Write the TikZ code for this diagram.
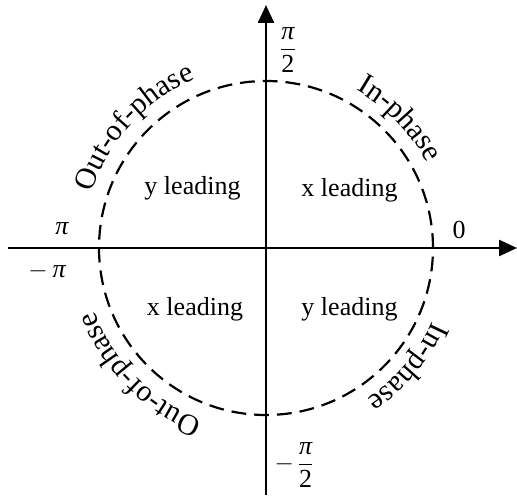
\documentclass[tikz,border=0pt]{standalone}
\usepackage{fontspec}
\setmainfont{Liberation Serif}
\usetikzlibrary{arrows.meta,decorations.text}
\newcommand\bigtxt{\fontsize{26}{31}\selectfont}
\newcommand\arctxt{\fontsize{30}{36}\selectfont}
\newcommand\ipi{\hbox{\itshape π}}
\begin{document}
\begin{tikzpicture}[x=1pt,y=1pt,
  axis/.style={line width=2.4pt,-{Triangle[length=18pt,width=16pt]}},
  dashcircle/.style={line width=2.2pt,dash pattern=on 14.8pt off 8pt},
  lbl/.style={font=\bigtxt,inner sep=0pt},
  arclabel/.style={decorate,decoration={text along path,text align={align=center},text={#1}}}]
\useasboundingbox (-266,-250) rectangle (251,248);
\coordinate (O) at (0,0);
\coordinate (W) at (-258,0);
\coordinate (E) at (251,0);
\coordinate (S) at (0,-247);
\coordinate (N) at (0,243);
\draw[axis] (W) -- (E);
\draw[axis] (S) -- (N);
\draw[dashcircle] (O) circle[radius=167];
% curved labels (clockwise arcs, tops outward)
\path[arclabel={|\arctxt|Out-of-phase}] (O) ++(182:183) arc[start angle=182,end angle=93,radius=183];
\path[arclabel={|\arctxt|In-phase}] (O) ++(84:182) arc[start angle=84,end angle=4,radius=182];
\path[arclabel={|\arctxt|In-phase}] (O) ++(0:182) arc[start angle=0,end angle=-80,radius=182];
\path[arclabel={|\arctxt|Out-of-phase}] (O) ++(270:183) arc[start angle=270,end angle=180,radius=183];
% quadrant labels
\node[lbl,anchor=base] (q2) at (-73.5,53) {y leading};
\node[lbl,anchor=base] (q1) at (83.5,51) {x leading};
\node[lbl,anchor=base] (q3) at (-71,-67) {x leading};
\node[lbl,anchor=base] (q4) at (83.5,-67) {y leading};
% angle labels
\node[lbl] (pi) at (-204,19.5) {\itshape π};
\node[lbl] (mpi) at (-219,-23) {$-$\hspace{5pt}\itshape π};
\node[lbl] (zero) at (193,18) {0};
\node[lbl] (pihalf) at (22,198) {$\displaystyle\frac{\ipi}{\hbox{2}}$};
\node[lbl] (mpihalf) at (28,-217) {$-\,\displaystyle\frac{\ipi}{\hbox{2}}$};
\end{tikzpicture}
\end{document}
